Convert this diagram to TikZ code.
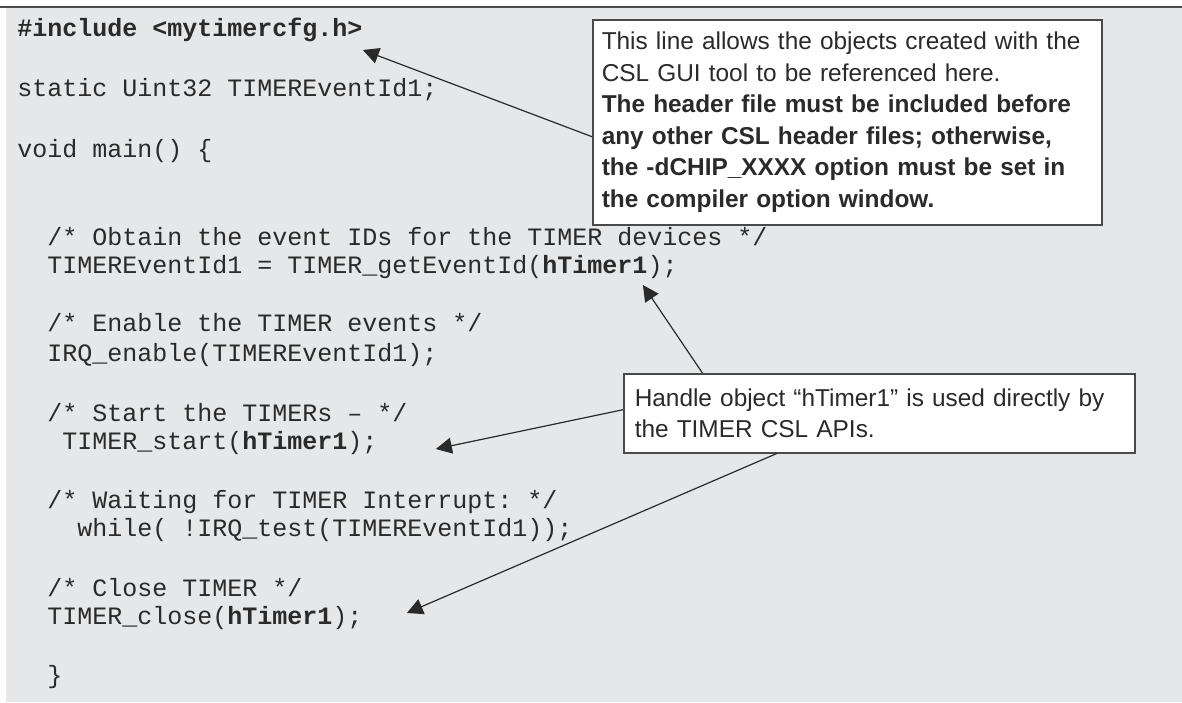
\documentclass[tikz,border=0pt]{standalone}
\usepackage{fontspec}
\setmainfont{Liberation Sans}
\setmonofont{Liberation Mono}
\usetikzlibrary{arrows.meta}
\usetikzlibrary{calc}
\definecolor{codebg}{HTML}{E6E7E8}
\definecolor{inkgray}{HTML}{2A2A2A}
\definecolor{rulegray}{HTML}{4A4A4A}

\tikzset{
  codeline/.style={anchor=base west, inner sep=0pt, text=inkgray,
    font=\fontsize{12.5}{15}\selectfont\ttfamily},
  notebox/.style={draw=rulegray, line width=0.75pt, fill=white, anchor=north west,
    align=left, inner ysep=0pt, text=inkgray,
    font=\fontsize{12.2}{15.8}\selectfont},
  pointer/.style={draw=inkgray, line width=0.6pt, -{Triangle[length=8pt,width=8pt]}}
}

\begin{document}
\begin{tikzpicture}[x=0.5pt, y=-0.5pt]
    \useasboundingbox (0,0) rectangle (1182,702);
    \fill[codebg] (6,8) rectangle (1182,702);
    \draw[rulegray, line width=1pt] (0,7) -- (1182,7);

    % code listing
    \node[codeline] (incl) at (17,36) {\textbf{\#include <mytimercfg.h>}};
    \node[codeline] (decl) at (17,96) {static Uint32 TIMEREventId1;};
    \node[codeline] (mainfn) at (17,157) {void main() \{};
    \node[codeline] (cmtobtain) at (47,245) {/* Obtain the event IDs for the TIMER devices */};
    \node[codeline] (getid) at (47,273) {TIMEREventId1 = TIMER\_getEventId(\textbf{hTimer1});};
    \node[codeline] (cmtenable) at (47,331) {/* Enable the TIMER events */};
    \node[codeline] (irqen) at (47,361) {IRQ\_enable(TIMEREventId1);};
    \node[codeline] (cmtstart) at (47,421) {/* Start the TIMERs – */};
    \node[codeline] (tstart) at (62,449) {TIMER\_start(\textbf{hTimer1});};
    \node[codeline] (cmtwait) at (47,508) {/* Waiting for TIMER Interrupt: */};
    \node[codeline] (waitloop) at (77,536) {while( !IRQ\_test(TIMEREventId1));};
    \node[codeline] (cmtclose) at (47,596) {/* Close TIMER */};
    \node[codeline] (tclose) at (47,624) {TIMER\_close(\textbf{hTimer1});};
    \node[codeline] (brace) at (47,683) {\}};

    % callouts
    \node[notebox, inner xsep=4.5pt, text width=245.5pt, minimum height=102.5pt] (hdrnote) at (592,19)
      {This line allows the objects created with the\\
       CSL GUI tool to be referenced here.\\
       \textbf{The header file must be included before}\\
       \textbf{any other CSL header files; otherwise,}\\
       \textbf{the -dCHIP\_XXXX option must be set in}\\
       \textbf{the compiler option window.}};
    \node[notebox, inner xsep=5.5pt, text width=244.5pt, minimum height=39.5pt] (handlenote) at (623,373)
      {Handle object “hTimer1” is used directly by\\
       the TIMER CSL APIs.};

    % arrow tips
    \coordinate (tipincl) at ($(incl.base east)+(0,14)$);
    \coordinate (tipgetid) at ($(getid.base east)+(-35,12)$);
    \coordinate (tipstart) at ($(tstart.base east)+(58,0)$);
    \coordinate (tipclose) at ($(tclose.base east)+(44,-11)$);

    \draw[pointer] ($(hdrnote.north west)!0.57!(hdrnote.south west)$) -- (tipincl);
    \draw[pointer] ($(handlenote.north west)!0.155!(handlenote.north east)$) -- (tipgetid);
    \draw[pointer] ($(handlenote.north west)!0.456!(handlenote.south west)$) -- (tipstart);
    \draw[pointer] ($(handlenote.south west)!0.3!(handlenote.south east)$) -- (tipclose);
\end{tikzpicture}
\end{document}
